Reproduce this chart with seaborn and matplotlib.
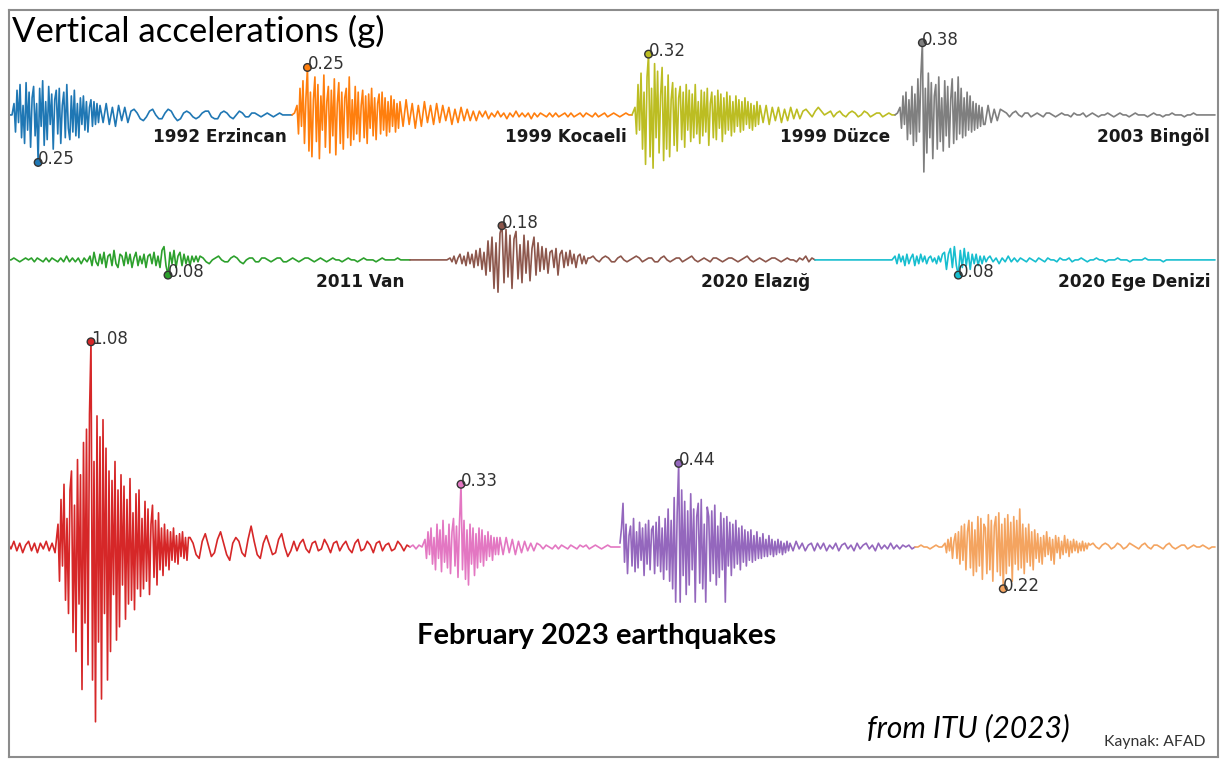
import numpy as np
import pandas as pd
import matplotlib
matplotlib.use("Agg")
import matplotlib.pyplot as plt
import seaborn as sns

# ---------------- data: vertical acceleration (g), read from the records ----------------
# each record: quiet lead-in, strong-motion burst (densely sampled), coda
erzincan_pre = [0.00, 0.00]
erzincan_burst = [0.06, -0.09, 0.13, -0.04, 0.16, -0.12, 0.05, -0.15, 0.17, -0.08, 0.12, -0.17, 0.09,
    0.15, -0.11, 0.06, -0.25, 0.14, -0.06, 0.18, -0.16, 0.07, -0.13, 0.15, -0.05, 0.11, -0.18, 0.08, 0.13,
    -0.10, 0.14, -0.15, 0.05, 0.12, -0.12, 0.16, -0.07, -0.13, 0.10, -0.09, 0.13, -0.11, 0.06, -0.12, 0.09,
    -0.05, 0.10, -0.08, 0.07, -0.09, 0.04, 0.08, -0.06, 0.07, -0.05, 0.06, -0.04]
erzincan_coda = [0.05, -0.04, 0.06, -0.05, 0.04, -0.06, 0.05, -0.03, 0.04, -0.04,
    0.02, 0.03, 0.01, -0.02, -0.03, -0.01, 0.02, 0.03, 0.00, -0.02, -0.02, 0.01, 0.03, 0.02, -0.01, -0.03,
    -0.02, 0.01, 0.02, 0.01, -0.01, -0.02, -0.01, 0.01, 0.02, 0.02, -0.01, -0.02, -0.02, 0.01, 0.02, 0.01,
    -0.01, -0.02, 0.00, 0.02, 0.01, -0.01, -0.01, 0.01, 0.01, 0.00, -0.01, 0.00, 0.01, 0.00, -0.01, 0.00,
    0.01, 0.00, 0.00, 0.00, 0.00]

kocaeli_pre = [0.00, 0.01]
kocaeli_burst = [0.05, -0.10, 0.14, -0.06, 0.18, -0.15, 0.09, 0.25, -0.19, 0.12, -0.22, 0.08, 0.20, -0.14,
    0.16, -0.23, 0.10, -0.08, 0.21, -0.17, 0.07, 0.15, -0.20, 0.13, -0.11, 0.19, -0.21, 0.06, 0.17, -0.15,
    0.12, -0.18, 0.09, 0.14, -0.12, 0.20, -0.16, 0.08, -0.13, 0.15, -0.10, 0.12, -0.14, 0.05, 0.13, -0.12,
    0.10, -0.15, 0.11, -0.07, 0.14, -0.11, 0.09, -0.13, 0.06, 0.11, -0.10, 0.12, -0.08, 0.09, -0.11, 0.07,
    -0.09, 0.10, -0.06, 0.08, -0.09, 0.06, -0.07]
kocaeli_coda = [0.07, -0.06, 0.08, -0.05, 0.06, -0.07, 0.05, -0.06, 0.07, -0.04, 0.05, -0.05, 0.06, -0.04,
    0.05, -0.03, 0.04, -0.05, 0.03, -0.04, 0.04, -0.03, 0.03, -0.03, 0.02, -0.03,
    0.02, -0.01, 0.02, -0.02, 0.01, -0.01, 0.02, -0.01, 0.01, -0.02, 0.01, -0.01, 0.02, -0.01, 0.01, -0.01,
    0.01, -0.02, 0.01, -0.01, 0.01, 0.00, -0.01, 0.01, -0.01, 0.01, -0.01, 0.00, 0.01, -0.01, 0.01, -0.01,
    0.00, 0.01, -0.01, 0.01, 0.00, -0.01, 0.01, -0.01, 0.00, 0.01, -0.01, 0.00, 0.01, 0.00, -0.01, 0.00,
    0.01, 0.00, 0.00]

duzce_pre = [0.00]
duzce_burst = [0.04, -0.10, 0.16, -0.08, 0.22, -0.18, 0.12, -0.26, 0.20, 0.32, -0.22, 0.14, -0.28, 0.27,
    -0.12, 0.23, -0.20, 0.10, 0.25, -0.24, 0.15, -0.18, 0.21, -0.22, 0.08, 0.17, -0.16, 0.14, -0.19, 0.09,
    0.15, -0.13, 0.12, -0.17, 0.16, -0.08, 0.13, -0.14, 0.11, -0.12, 0.16, -0.10, 0.07, -0.15, 0.13, -0.11,
    0.12, -0.09, 0.14, -0.16, 0.06, 0.12, -0.12, 0.10, -0.13, 0.13, -0.07, 0.11, -0.14, 0.09, -0.10, 0.12,
    -0.08, 0.10, -0.11, 0.07, -0.09, 0.10, -0.06, 0.08, -0.09, 0.07, -0.08, 0.09, -0.05, 0.07, -0.07, 0.06,
    -0.08, 0.05, -0.06, 0.07, -0.05]
duzce_coda = [0.05, -0.04, 0.05, -0.05, 0.04, -0.03, 0.04, -0.04, 0.03, -0.03, 0.04, -0.02, 0.03, -0.02,
    0.02, 0.03, 0.01, -0.01, 0.02, 0.04, 0.02, 0.00, 0.01, 0.02, -0.01, 0.01, 0.02, 0.00, -0.01, 0.01,
    0.02, 0.01, -0.01, 0.00, 0.02, 0.01, -0.01, 0.00, 0.01, 0.01, -0.01, 0.00, 0.01, 0.00, 0.00]

bingol_pre = [0.00, 0.01]
bingol_burst = [0.04, -0.07, 0.10, -0.05, 0.12, -0.13, 0.08, -0.10, 0.15, -0.16, 0.11, -0.14, 0.19, -0.09,
    0.21, 0.38, -0.30, 0.14, -0.20, 0.22, -0.12, 0.17, -0.23, 0.10, 0.16, -0.18, 0.20, -0.14, 0.09, -0.19,
    0.18, -0.11, 0.15, -0.17, 0.08, 0.19, -0.15, 0.12, -0.13, 0.20, -0.10, 0.14, -0.12, 0.09, -0.11, 0.12,
    -0.08, 0.10, -0.09, 0.07, -0.08, 0.06, -0.07, 0.05, -0.06, 0.04, -0.05]
bingol_coda = [-0.05, 0.05, -0.04, 0.03, -0.03, 0.03,
    0.02, 0.01, -0.01, 0.01, 0.02, 0.00, -0.01, 0.01, 0.01, -0.01, 0.00, 0.01, 0.00, -0.01, 0.01, 0.01,
    0.00, -0.01, 0.00, 0.01, 0.00, 0.00, -0.01, 0.01, 0.00, 0.00, 0.01, -0.01, 0.00, 0.01, 0.00, -0.01,
    0.00, 0.00, 0.01, 0.00, -0.01, 0.00, 0.01, 0.00, 0.00, -0.01, 0.00, 0.01, 0.00, 0.00, 0.00, -0.01,
    0.00, 0.01, 0.00, 0.00, -0.01, 0.00, 0.00, 0.01, 0.00, 0.00, 0.00, -0.01, 0.00, 0.00, 0.01, 0.00,
    0.00, 0.00, 0.00, 0.00, 0.00, 0.00]

van_pre = [0.00, 0.00, 0.01, 0.00, -0.01, 0.00, 0.01, 0.00,
    0.01, -0.01, 0.01, 0.00, -0.01, 0.01, -0.01, 0.01, 0.00, -0.01, 0.01, -0.01, 0.02, -0.01, 0.01, -0.01,
    0.01, -0.02, 0.01, -0.01]
van_burst = [0.02, -0.03, 0.04, -0.01, -0.03, 0.03, -0.02, 0.04, -0.04, 0.02, 0.03, -0.03, 0.05, -0.02,
    -0.04, 0.03, 0.02, -0.03, 0.04, -0.02, 0.03, -0.04, 0.01, 0.04, -0.03, 0.02, -0.02, 0.03, -0.04, 0.02,
    0.03, -0.02, 0.04, -0.03, 0.02, -0.04, 0.05, 0.07, -0.03, -0.08, 0.04, -0.02, 0.05, -0.04, 0.02, 0.04,
    -0.03, 0.03, -0.02, 0.02, -0.03, 0.02, -0.01, 0.02, -0.01]
van_coda = [0.02, 0.01, -0.01, -0.02, 0.00, 0.01, 0.02, 0.00, -0.01, -0.01, 0.01, 0.02, 0.01, -0.01, -0.02,
    0.00, 0.01, 0.01, -0.01, -0.01, 0.01, 0.01, 0.00, -0.01, 0.00, 0.01, 0.01, -0.01, -0.01, 0.00, 0.01,
    0.00, -0.01, 0.00, 0.01, 0.01, 0.00, -0.01, 0.00, 0.01, 0.00, -0.01, 0.00, 0.01, 0.00, 0.00, -0.01,
    0.00, 0.01, 0.00, 0.00, -0.01, 0.00, 0.01, 0.00, 0.00, 0.00, -0.01, 0.00, 0.01, 0.00, 0.00, 0.00,
    0.00, 0.01, 0.00, 0.00, 0.00, 0.00]

elazig_pre = [0.00, 0.00, 0.00, 0.00, 0.00, 0.00, 0.00, 0.00, 0.00, 0.00, 0.00, 0.00, 0.00]
elazig_burst = [0.01, -0.01, 0.02, -0.02, 0.01, 0.03, -0.02, 0.02, -0.03, 0.04, -0.02, 0.03, -0.04, 0.05,
    -0.03, 0.06, -0.05, 0.04, -0.08, 0.10, -0.06, 0.12, -0.15, 0.09, -0.17, 0.14, 0.18, -0.12, 0.16, -0.09,
    0.13, -0.15, 0.11, 0.15, -0.10, 0.08, -0.12, 0.13, -0.07, 0.10, -0.11, 0.06, 0.12, -0.08, 0.09, -0.06,
    0.07, -0.05, 0.06, -0.07, 0.04, 0.05, -0.04, 0.06, -0.08, 0.03, 0.05, -0.04, 0.04, -0.03, 0.05, -0.02,
    0.03, -0.04, 0.02, 0.03, -0.02, 0.02, -0.02, 0.01]
elazig_coda = [0.01, 0.02, 0.00, -0.01, 0.01, 0.02, 0.01, -0.01, -0.01, 0.01, 0.02, 0.00, -0.01, 0.00,
    0.01, 0.02, 0.01, -0.01, 0.00, 0.01, 0.01, -0.01, -0.01, 0.01, 0.02, 0.00, -0.01, 0.00, 0.01, 0.01,
    -0.01, 0.00, 0.01, 0.02, 0.00, -0.01, 0.00, 0.01, 0.00, -0.01, 0.01, 0.01, 0.00, -0.01, 0.00, 0.01,
    0.01, 0.00, -0.01, 0.00, 0.01, 0.02, 0.00, -0.01, 0.00, 0.01, 0.00, -0.01, 0.00, 0.01, 0.01, 0.00,
    -0.01, 0.00, 0.01, 0.00, 0.00, -0.01, 0.01, 0.00, 0.02, -0.01, 0.01, 0.00]

ege_pre = [0.00, 0.00, 0.00, 0.00, 0.00, 0.00, 0.00, 0.00, 0.00, 0.00, 0.00, 0.00, 0.00, 0.00,
    0.00, 0.00, 0.00, 0.00, 0.00, 0.00, 0.00, 0.00, 0.00, 0.00, 0.00, 0.00, 0.00]
ege_burst = [0.02, -0.02, 0.03, -0.01, 0.02, -0.03, 0.03, -0.02, 0.01, 0.03, -0.03, 0.02, -0.02, 0.03,
    -0.01, 0.02, -0.02, 0.01, 0.02, -0.01, 0.01, -0.02, 0.02, -0.01, 0.03, 0.04, -0.05, 0.03, 0.06, -0.04,
    0.07, -0.03, -0.08, 0.05, -0.04, 0.06, -0.03, 0.04, -0.05, 0.03, -0.02, 0.03, -0.03, 0.02, -0.02, 0.02,
    -0.01, 0.01]
ege_coda = [0.02, -0.01, 0.01, -0.02, 0.01, -0.01, 0.02, -0.01, 0.01, -0.01, 0.01, 0.00, -0.01, 0.01,
    0.00, -0.01, 0.01, 0.00, -0.01, 0.01, 0.00, 0.00, -0.01, 0.01, 0.00, 0.00, 0.01, -0.01, 0.00, 0.00,
    0.01, 0.00, -0.01, 0.00, 0.00, 0.01, 0.00, 0.00, -0.01, 0.00, 0.00, 0.00, 0.01, 0.00, 0.00, 0.00,
    -0.01, 0.00, 0.00, 0.00, 0.00, 0.01, 0.00, 0.00, 0.00, 0.00, 0.00, -0.01, 0.00, 0.00, 0.00, 0.00,
    0.00, 0.00, 0.00, 0.00, 0.00, 0.00, 0.00, 0.00, 0.00, 0.00, 0.00, 0.00, 0.00]

feb_a_pre = [0.02, -0.01, 0.03, -0.02, 0.02, -0.03, 0.01, 0.03, -0.02, 0.02, -0.03, 0.02, -0.01, 0.03,
    -0.02, 0.02, -0.03]
feb_a_burst = [0.12, -0.18, 0.25, -0.10, 0.33, -0.28, 0.15, -0.35, 0.30, 0.40, -0.45, 0.22, -0.55, 0.46,
    -0.30, 0.38, -0.75, 0.55, -0.40, 0.62, -0.62, 0.70, 1.08, -0.70, 0.45, -0.92, 0.69, -0.50, 0.58, -0.80,
    0.67, -0.35, 0.52, -0.70, 0.40, -0.55, 0.35, -0.25, 0.45, -0.49, 0.30, -0.42, 0.38, -0.20, 0.32, -0.38,
    0.25, -0.30, 0.36, -0.28, 0.18, -0.33, 0.28, -0.22, 0.30, -0.26, 0.15, -0.22, 0.24, -0.18, 0.20, -0.25,
    0.12, 0.22, -0.16, 0.14, -0.20, 0.18, -0.12, 0.10, -0.15, 0.12, -0.10, 0.09, -0.12, 0.08, -0.07, 0.10,
    -0.08, 0.06, -0.09, 0.07, -0.05, 0.08, -0.06, 0.05, -0.07, 0.05]
feb_a_coda = [0.05, 0.02, -0.04, -0.06, 0.03, 0.07, 0.01, -0.05, -0.03, 0.04, 0.08, 0.02, -0.04, -0.07,
    0.02, 0.05, 0.03, -0.03, -0.05, 0.04, 0.11, 0.03, -0.04, -0.06, 0.02, 0.06, 0.01, -0.04, -0.03, 0.04,
    0.07, 0.00, -0.05, -0.02,
    0.03, -0.02, 0.02, 0.04, -0.01, -0.03, 0.02, 0.03, -0.02, -0.01, 0.04, 0.01, -0.03, 0.02, 0.03, -0.02,
    0.01, 0.03, -0.01, -0.03, 0.02, 0.04, -0.02, -0.01, 0.03, 0.01, -0.03, 0.02, 0.03, -0.02, 0.01, 0.02,
    -0.02, -0.01, 0.03, 0.01, -0.02, 0.01, 0.00]

feb_b_pre = [0.00, 0.01, -0.01, 0.01, 0.00]
feb_b_burst = [0.04, -0.06, 0.08, -0.04, 0.10, -0.09, 0.05, -0.12, 0.12, -0.06, 0.09, -0.13, 0.14, -0.08,
    0.06, -0.11, 0.12, -0.14, 0.08, 0.15, -0.10, 0.11, -0.16, 0.13, 0.33, -0.12, 0.14, -0.17, 0.09, -0.20,
    0.12, -0.09, 0.10, -0.15, 0.07, -0.11, 0.10, -0.08, 0.09, -0.10, 0.06, -0.07, 0.08, -0.05, 0.06, -0.07,
    0.05, -0.04, 0.05, -0.04]
feb_b_coda = [0.05, -0.04, 0.05, -0.03, 0.04, -0.04, 0.03, -0.03, 0.03, -0.02, 0.02, -0.02, 0.02,
    0.01, -0.01, 0.01, 0.00, -0.01, 0.01, -0.01, 0.01, 0.00, -0.01, 0.01, 0.00, -0.01, 0.01, 0.00, 0.01,
    -0.01, 0.00, 0.01, 0.00, -0.01, 0.00, 0.01, 0.00, 0.00, 0.00, 0.00]

feb_c_pre = []
feb_c_burst = [0.02, 0.10, 0.23, -0.08, 0.12, -0.14, 0.06, 0.11, -0.10, 0.15, -0.13, 0.08, -0.11, 0.13,
    -0.07, 0.10, -0.15, 0.12, -0.09, 0.14, -0.12, 0.09, 0.11, -0.14, 0.13, -0.10, 0.16, -0.13, 0.10, -0.17,
    0.15, -0.12, 0.20, -0.18, 0.14, -0.22, 0.26, -0.29, 0.18, 0.44, -0.29, 0.30, -0.15, 0.24, -0.25, 0.19,
    -0.20, 0.28, -0.12, 0.20, -0.29, 0.16, 0.23, -0.19, 0.25, -0.22, 0.12, -0.29, 0.21, 0.16, -0.18, 0.19,
    -0.14, 0.22, -0.20, 0.11, -0.16, 0.18, -0.12, 0.15, -0.29, 0.16, -0.10, 0.13, -0.15, 0.12, -0.11, 0.14,
    -0.09, 0.10, -0.12, 0.11, -0.08, 0.09, -0.10, 0.08, -0.07, 0.09, -0.08, 0.06, -0.07, 0.08, -0.06, 0.05,
    -0.06, 0.07, -0.05, 0.04, -0.05, 0.06, -0.04, 0.04, -0.05, 0.03, -0.04, 0.04, -0.03, 0.03, -0.04, 0.02,
    -0.03, 0.03, -0.02]
feb_c_coda = [0.02, -0.02, 0.03, -0.01, 0.02, -0.02, 0.01, 0.02, -0.02, 0.02, -0.01, 0.02, -0.02, 0.01,
    -0.01, 0.02, -0.02, 0.01, 0.02, -0.01, 0.01, -0.02, 0.02, -0.01, 0.01, 0.02, -0.01, 0.01, -0.02, 0.02,
    -0.01, 0.01, -0.01, 0.02, -0.01, 0.01, -0.01, 0.01, 0.00, 0.01, -0.01, 0.00]

feb_d_pre = [0.00, 0.00, 0.01, 0.00, 0.00, -0.01, 0.00, 0.01, 0.00, 0.00]
feb_d_burst = [0.02, -0.03, 0.04, -0.02, 0.05, -0.06, 0.03, 0.07, -0.06, 0.08, -0.09, 0.11, -0.07, 0.12,
    -0.12, 0.08, 0.14, -0.11, 0.13, -0.15, 0.09, -0.13, 0.16, -0.10, 0.15, -0.17, 0.12, 0.10, -0.14, 0.17,
    -0.12, 0.14, -0.18, 0.11, 0.16, -0.13, 0.18, -0.15, 0.12, -0.22, 0.15, -0.14, 0.17, -0.10, 0.13, -0.18,
    0.16, -0.09, 0.14, -0.12, 0.20, -0.11, 0.12, -0.14, 0.10, -0.08, 0.12, -0.10, 0.08, -0.12, 0.09, -0.06,
    0.07, -0.08, 0.05, -0.09, 0.06, -0.05, 0.08, -0.04, 0.05, -0.07, 0.04, -0.09, 0.06, -0.03, 0.05, -0.06,
    0.03, -0.04, 0.06, -0.03, 0.04, -0.05, 0.03, -0.03, 0.04, -0.02, 0.03, -0.03, 0.02, -0.02, 0.03, -0.02,
    0.02, -0.01, 0.02]
feb_d_coda = [0.01, 0.02, 0.00, -0.01, 0.01, 0.02, 0.01, -0.01, 0.00, 0.02, 0.01, -0.01, 0.00, 0.02,
    0.01, 0.00, -0.01, 0.01, 0.02, 0.00, -0.01, 0.01, 0.01, 0.00, -0.01, 0.01, 0.02, 0.00, -0.01, 0.00,
    0.01, 0.01, -0.01, 0.00, 0.01, 0.00, 0.00, 0.01, 0.00, -0.01, 0.00, 0.00]

event_keys = ["erzincan", "kocaeli", "duzce", "bingol", "van", "elazig", "ege",
              "feb_a", "feb_b", "feb_c", "feb_d"]
event_labels = ["1992 Erzincan", "1999 Kocaeli", "1999 Düzce", "2003 Bingöl",
                "2011 Van", "2020 Elazığ", "2020 Ege Denizi", "", "", "", ""]
records = [
    (erzincan_pre, erzincan_burst, erzincan_coda),
    (kocaeli_pre, kocaeli_burst, kocaeli_coda),
    (duzce_pre, duzce_burst, duzce_coda),
    (bingol_pre, bingol_burst, bingol_coda),
    (van_pre, van_burst, van_coda),
    (elazig_pre, elazig_burst, elazig_coda),
    (ege_pre, ege_burst, ege_coda),
    (feb_a_pre, feb_a_burst, feb_a_coda),
    (feb_b_pre, feb_b_burst, feb_b_coda),
    (feb_c_pre, feb_c_burst, feb_c_coda),
    (feb_d_pre, feb_d_burst, feb_d_coda),
]
colors = ["#1f77b4", "#ff7f0e", "#bcbd22", "#7f7f7f", "#2ca02c", "#8c564b", "#17becf",
          "#d62728", "#e377c2", "#9467bd", "#f4a460"]

# ---------------- layout: row of each record, time windows (start, burst on, burst off, end) ----------
event_row = [0, 0, 0, 0, 1, 1, 1, 2, 2, 2, 2]
windows = [(10, 14, 100, 292), (292, 297, 400, 632), (632, 635, 760, 895), (895, 900, 985, 1215),
           (8, 90, 200, 410), (410, 450, 590, 815), (815, 895, 990, 1215),
           (8, 58, 190, 410), (410, 425, 500, 620), (620, 620, 790, 915), (915, 945, 1090, 1215)]
row_offset = [2.274, 1.511, 0.0]

frames, peaks = [], []
for key, lab, (pre, burst, coda), r, (t0, b0, b1, t1) in zip(event_keys, event_labels, records,
                                                               event_row, windows):
    v = np.asarray(pre + burst + coda, dtype=float)
    t = np.concatenate([np.linspace(t0, b0, len(pre), endpoint=False),
                        np.linspace(b0, b1, len(burst), endpoint=False),
                        np.linspace(b1, t1, len(coda))])
    frames.append(pd.DataFrame({"t": t, "y": v + row_offset[r], "event": key}))
    i = int(np.argmax(np.abs(v)))
    peaks.append({"t": t[i], "y": v[i] + row_offset[r], "event": key,
                  "text": f"{abs(v[i]):.2f}", "label": lab, "t_end": t1, "row": r})
df = pd.concat(frames, ignore_index=True)
pk = pd.DataFrame(peaks)

sns.set_theme(style="white")
plt.rcParams["font.family"] = ["DejaVu Sans"]

W, H = 1221, 760
fig = plt.figure(figsize=(W / 100, H / 100), dpi=100)
fig.patch.set_facecolor("white")
ax = fig.add_axes([9 / W, 1 - 757 / H, (1218 - 9) / W, (757 - 10) / H])
ax.set_xlim(9, 1218)
ax.set_ylim((547 - 757) / 190, (547 - 10) / 190)

palette = dict(zip(event_keys, colors))
sns.lineplot(data=df, x="t", y="y", hue="event", palette=palette, estimator=None,
             sort=False, legend=False, linewidth=1.2, ax=ax)
sns.scatterplot(data=pk, x="t", y="y", hue="event", palette=palette, legend=False,
                s=30, edgecolor="#333333", linewidth=1.0, zorder=5, ax=ax)

for _, p in pk.iterrows():
    ax.annotate(p["text"], (p["t"], p["y"]), xytext=(0, -2), textcoords="offset pixels",
                ha="left", va="baseline", fontsize=12, color="#333333", zorder=6)
    if p["label"]:
        ax.text(p["t_end"] - 5, row_offset[p["row"]] - 0.118, p["label"], ha="right",
                va="center", fontsize=12.2, fontweight="bold", color="#1a1a1a")

ax.set_xlabel("")
ax.set_ylabel("")
ax.set_xticks([])
ax.set_yticks([])
for s in ax.spines.values():
    s.set_color("#8c8c8c")
    s.set_linewidth(1.5)

fig.text(12 / W, 1 - 31 / H, "Vertical accelerations (g)", fontsize=25, family="Lato",
         ha="left", va="center", color="black")
fig.text(597 / W, 1 - 636 / H, "February 2023 earthquakes", fontsize=21, family="Lato",
         fontweight="bold", ha="center", va="center", color="black")
fig.text(1070 / W, 1 - 728 / H, "from ITU (2023)", fontsize=21.5, family="Lato",
         style="italic", ha="right", va="center", color="black")
fig.text(1205 / W, 1 - 742 / H, "Kaynak: AFAD", fontsize=11.3, family="Lato",
         ha="right", va="center", color="#333333")

fig.savefig("out.png", dpi=100, facecolor="white")
